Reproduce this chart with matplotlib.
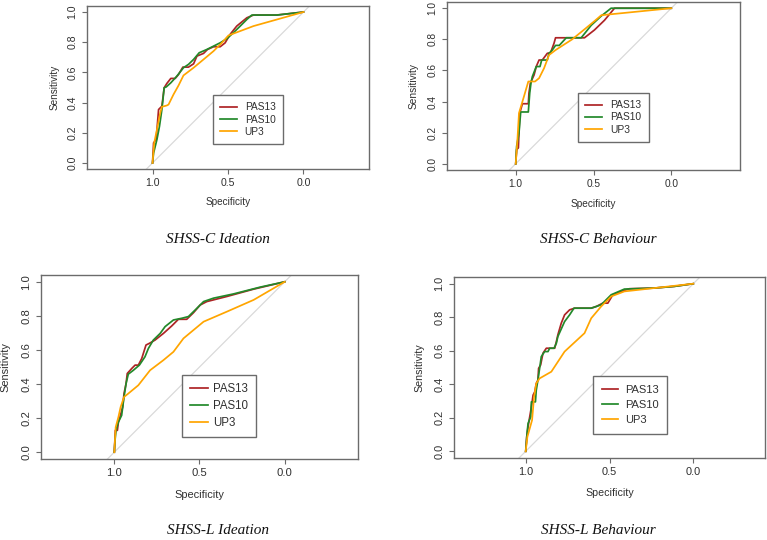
import matplotlib
matplotlib.use("Agg")
import matplotlib.pyplot as plt

# ---------------- data ----------------
series_names = ["PAS13", "PAS10", "UP3"]
series_colors = ["#AE2426", "#22892A", "#FFA500"]
panel_titles = ["SHSS-C Ideation", "SHSS-C Behaviour", "SHSS-L Ideation", "SHSS-L Behaviour"]
x_ticks = [1.0, 0.5, 0.0]
x_tick_labels = ["1.0", "0.5", "0.0"]
y_ticks = [0.0, 0.2, 0.4, 0.6, 0.8, 1.0]
y_tick_labels = ["0.0", "0.2", "0.4", "0.6", "0.8", "1.0"]

# SHSS-C Ideation
ci_pas13_spec = [1.0, 0.993, 0.976, 0.96, 0.938, 0.923, 0.905, 0.879, 0.85, 0.828, 0.799, 0.762, 0.728, 0.706,
                 0.662, 0.636, 0.596, 0.552, 0.519, 0.486, 0.442, 0.375, 0.331, 0.177, 0.0]
ci_pas13_sens = [0.0, 0.133, 0.155, 0.354, 0.376, 0.498, 0.527, 0.56, 0.56, 0.586, 0.635, 0.635, 0.657, 0.708,
                 0.726, 0.752, 0.77, 0.77, 0.796, 0.852, 0.907, 0.962, 0.98, 0.98, 1.0]
ci_pas10_spec = [1.0, 0.993, 0.971, 0.954, 0.938, 0.923, 0.909, 0.879, 0.839, 0.795, 0.762, 0.728, 0.691, 0.64,
                 0.596, 0.552, 0.508, 0.464, 0.419, 0.375, 0.342, 0.177, 0.0]
ci_pas10_sens = [0.0, 0.066, 0.155, 0.243, 0.354, 0.498, 0.504, 0.531, 0.575, 0.631, 0.653, 0.686, 0.73, 0.752,
                 0.774, 0.796, 0.823, 0.863, 0.907, 0.951, 0.98, 0.98, 1.0]
ci_up3_spec = [1.0, 0.989, 0.971, 0.949, 0.938, 0.905, 0.894, 0.861, 0.828, 0.795, 0.728, 0.662, 0.596, 0.541,
               0.497, 0.419, 0.331, 0.0]
ci_up3_sens = [0.0, 0.133, 0.221, 0.332, 0.372, 0.381, 0.387, 0.454, 0.513, 0.58, 0.631, 0.686, 0.741, 0.796,
               0.845, 0.874, 0.907, 1.0]

# SHSS-C Behaviour
cb_pas13_spec = [1.0, 0.994, 0.983, 0.974, 0.957, 0.919, 0.915, 0.906, 0.882, 0.868, 0.85, 0.829, 0.797, 0.776,
                 0.754, 0.744, 0.558, 0.494, 0.429, 0.365, 0.0]
cb_pas13_sens = [0.0, 0.092, 0.102, 0.326, 0.386, 0.386, 0.454, 0.518, 0.571, 0.625, 0.667, 0.667, 0.71, 0.714,
                 0.774, 0.81, 0.81, 0.86, 0.923, 1.0, 1.0]
cb_pas10_spec = [1.0, 0.994, 0.979, 0.968, 0.919, 0.91, 0.902, 0.893, 0.868, 0.844, 0.833, 0.797, 0.786, 0.765,
                 0.744, 0.72, 0.675, 0.579, 0.515, 0.45, 0.387, 0.0]
cb_pas10_sens = [0.0, 0.113, 0.198, 0.333, 0.333, 0.454, 0.518, 0.561, 0.625, 0.625, 0.667, 0.667, 0.71, 0.731,
                 0.761, 0.761, 0.81, 0.81, 0.89, 0.95, 1.0, 1.0]
cb_up3_spec = [1.0, 0.989, 0.979, 0.947, 0.919, 0.876, 0.85, 0.818, 0.786, 0.744, 0.637, 0.551, 0.487, 0.45, 0.0]
cb_up3_sens = [0.0, 0.156, 0.326, 0.433, 0.529, 0.529, 0.55, 0.614, 0.699, 0.731, 0.8, 0.87, 0.923, 0.955, 1.0]

# SHSS-L Ideation
li_pas13_spec = [1.0, 0.994, 0.982, 0.976, 0.967, 0.951, 0.943, 0.931, 0.924, 0.898, 0.878, 0.859, 0.839, 0.814,
                 0.794, 0.761, 0.712, 0.663, 0.624, 0.575, 0.535, 0.496, 0.457, 0.339, 0.182, 0.0]
li_pas13_sens = [0.0, 0.128, 0.128, 0.177, 0.206, 0.265, 0.344, 0.403, 0.462, 0.491, 0.511, 0.511, 0.55, 0.629,
                 0.639, 0.658, 0.697, 0.741, 0.78, 0.78, 0.819, 0.864, 0.884, 0.914, 0.957, 1.0]
li_pas10_spec = [1.0, 0.996, 0.99, 0.976, 0.957, 0.943, 0.931, 0.918, 0.888, 0.853, 0.82, 0.8, 0.771, 0.731,
                 0.702, 0.653, 0.604, 0.565, 0.525, 0.476, 0.418, 0.3, 0.143, 0.0]
li_pas10_sens = [0.0, 0.069, 0.128, 0.177, 0.216, 0.324, 0.403, 0.458, 0.481, 0.511, 0.56, 0.609, 0.658, 0.697,
                 0.737, 0.776, 0.786, 0.796, 0.835, 0.884, 0.904, 0.929, 0.969, 1.0]
li_up3_spec = [1.0, 0.992, 0.976, 0.963, 0.943, 0.918, 0.859, 0.79, 0.712, 0.653, 0.594, 0.535, 0.476, 0.339,
               0.182, 0.0]
li_up3_sens = [0.0, 0.147, 0.206, 0.265, 0.324, 0.344, 0.393, 0.481, 0.54, 0.589, 0.668, 0.717, 0.766, 0.825,
               0.894, 1.0]

# SHSS-L Behaviour
lb_pas13_spec = [1.0, 0.994, 0.986, 0.976, 0.966, 0.956, 0.946, 0.937, 0.927, 0.923, 0.911, 0.897, 0.877, 0.827,
                 0.817, 0.808, 0.788, 0.768, 0.738, 0.708, 0.609, 0.579, 0.54, 0.51, 0.48, 0.431, 0.381, 0.232,
                 0.113, 0.0]
lb_pas13_sens = [0.0, 0.086, 0.146, 0.206, 0.265, 0.335, 0.355, 0.405, 0.425, 0.495, 0.515, 0.585, 0.615, 0.615,
                 0.655, 0.695, 0.764, 0.814, 0.844, 0.854, 0.854, 0.864, 0.884, 0.884, 0.934, 0.954, 0.97, 0.974,
                 0.984, 1.0]
lb_pas10_spec = [1.0, 0.992, 0.986, 0.97, 0.966, 0.942, 0.937, 0.927, 0.917, 0.907, 0.887, 0.867, 0.857, 0.831,
                 0.817, 0.808, 0.768, 0.738, 0.712, 0.609, 0.55, 0.49, 0.411, 0.232, 0.113, 0.0]
lb_pas10_sens = [0.0, 0.106, 0.166, 0.206, 0.295, 0.295, 0.365, 0.425, 0.495, 0.565, 0.595, 0.595, 0.615, 0.615,
                 0.645, 0.685, 0.774, 0.814, 0.854, 0.854, 0.874, 0.934, 0.968, 0.974, 0.984, 1.0]
lb_up3_spec = [1.0, 0.99, 0.976, 0.962, 0.95, 0.937, 0.917, 0.847, 0.768, 0.649, 0.609, 0.55, 0.49, 0.411, 0.232,
               0.0]
lb_up3_sens = [0.0, 0.086, 0.136, 0.186, 0.325, 0.405, 0.435, 0.475, 0.595, 0.705, 0.794, 0.864, 0.924, 0.954,
               0.974, 1.0]

panels = [
    [(ci_pas13_spec, ci_pas13_sens), (ci_pas10_spec, ci_pas10_sens), (ci_up3_spec, ci_up3_sens)],
    [(cb_pas13_spec, cb_pas13_sens), (cb_pas10_spec, cb_pas10_sens), (cb_up3_spec, cb_up3_sens)],
    [(li_pas13_spec, li_pas13_sens), (li_pas10_spec, li_pas10_sens), (li_up3_spec, li_up3_sens)],
    [(lb_pas13_spec, lb_pas13_sens), (lb_pas10_spec, lb_pas10_sens), (lb_up3_spec, lb_up3_sens)],
]

# ---------------- layout (pixels) ----------------
W, H = 767, 540
# axes boxes: left, top, right, bottom
boxes = [(87, 6, 369, 169), (447, 2, 740, 170), (41, 275, 358, 459), (454, 277, 765, 458)]
tick_fs = [7.6, 7.3, 8.1, 7.9]
label_fs = [7.2, 7.3, 7.9, 7.7]
legend_fs = [7.3, 7.4, 8.3, 8.0]
ylab_off = [32, 33, 36, 35]
xlab_off = [33, 34, 36, 35]
legend_anchor = [(0.447, 0.454), (0.447, 0.46), (0.445, 0.457), (0.447, 0.453)]
legend_spacing = [0.22, 0.22, 0.42, 0.48]
legend_pad = [0.72, 0.72, 0.72, 0.78]
legend_hlen = [1.6, 1.6, 1.5, 1.5]
legend_hpad = [0.8, 0.8, 0.45, 0.6]
title_pos = [(218, 239), (598, 239), (218, 531), (598, 531)]

plt.rcParams["font.family"] = ["Liberation Sans", "DejaVu Sans"]
fig = plt.figure(figsize=(W / 100, H / 100), dpi=100)
fig.patch.set_facecolor("white")

frame_col = "#6b6b6b"
text_col = "#303030"

for i, (l, t, r, b) in enumerate(boxes):
    w, h = r - l, b - t
    ax = fig.add_axes([l / W, 1 - b / H, w / W, h / H])
    ylo, yhi = -0.04, 1.04
    unit = h / (yhi - ylo)
    half = (w / 2) / unit
    ax.set_xlim(0.5 + half, 0.5 - half)
    ax.set_ylim(ylo, yhi)

    # chance diagonal
    ax.plot([1.6, -0.6], [-0.6, 1.6], color="#d9d9d9", lw=0.9, zorder=1)

    for (sp, se), name, col in zip(panels[i], series_names, series_colors):
        ax.plot(sp, se, color=col, lw=1.25, label=name, zorder=2)

    for s in ax.spines.values():
        s.set_color(frame_col)
        s.set_linewidth(1.0)

    ax.set_xticks(x_ticks)
    ax.set_xticklabels(x_tick_labels)
    ax.set_yticks(y_ticks)
    ax.set_yticklabels(y_tick_labels, rotation=90, va="center")
    ax.tick_params(axis="both", length=3.6, width=0.8, color=frame_col, labelcolor=text_col,
                   labelsize=tick_fs[i], pad=3.2)

    ax.set_xlabel("Specificity", fontsize=label_fs[i], color=text_col, va="center")
    ax.set_ylabel("Sensitivity", fontsize=label_fs[i], color=text_col, va="center")
    ax.xaxis.set_label_coords(0.5, -xlab_off[i] / h)
    ax.yaxis.set_label_coords(-ylab_off[i] / w, 0.5)

    leg = ax.legend(loc="upper left", bbox_to_anchor=legend_anchor[i], borderaxespad=0,
                    fontsize=legend_fs[i], frameon=True, fancybox=False, framealpha=1,
                    edgecolor=frame_col, handlelength=legend_hlen[i], handletextpad=legend_hpad[i],
                    labelspacing=legend_spacing[i], borderpad=legend_pad[i])
    leg.get_frame().set_linewidth(1.0)
    for txt in leg.get_texts():
        txt.set_color(text_col)

    tx, ty = title_pos[i]
    fig.text(tx / W, 1 - ty / H, panel_titles[i], ha="center", va="center",
             family=["Liberation Serif", "DejaVu Serif"], style="italic", fontsize=11, color="#111111")

fig.savefig("out.png", dpi=100, facecolor="white")
